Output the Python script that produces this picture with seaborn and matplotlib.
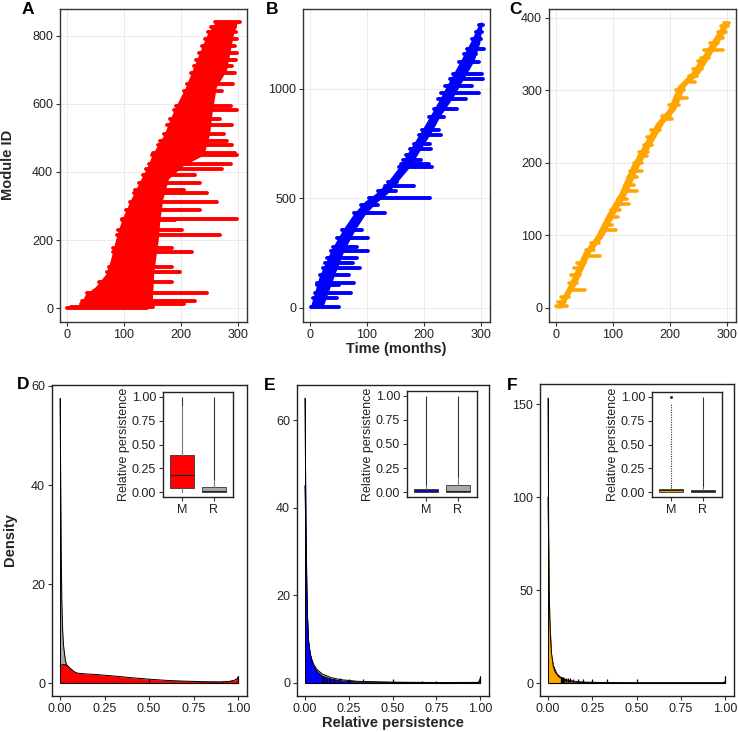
import numpy as np
import pandas as pd
import matplotlib
matplotlib.use("Agg")
import matplotlib.pyplot as plt
import seaborn as sns

# ------------------------------------------------------------------ data
# Panel A (red) : solid core of module lifetimes (module id vs months)
a_core_id    = [0, 10, 40, 63, 100, 140, 200, 260, 320, 380, 420, 450, 510, 580, 650, 700, 770, 805, 835, 842]
a_core_left  = [0, 23, 32, 50, 68, 76, 85, 96, 112, 130, 142, 149, 170, 187, 208, 220, 237, 246, 258, 262]
a_core_right = [148, 150, 150, 151, 152, 155, 160, 163, 168, 178, 205, 240, 250, 255, 262, 280, 288, 292, 298, 300]
# protruding long-lived modules
a_bar_id    = [0, 3, 13, 20, 44, 78, 107, 122, 166, 176, 215, 229, 258, 263, 288, 312, 339, 346, 368, 390, 410, 424,
               449, 455, 478, 490, 512, 537, 556, 582, 595, 639, 660, 690, 710, 730, 750, 770, 790, 810, 825, 840]
a_bar_start = [0, 7, 24, 27, 35, 57, 70, 73, 80, 81, 88, 90, 96, 97, 104, 110, 117, 119, 126, 133, 139, 143,
               149, 150, 159, 164, 171, 176, 181, 188, 192, 205, 211, 217, 222, 227, 232, 237, 242, 247, 252, 260]
a_bar_end   = [140, 150, 205, 225, 246, 184, 199, 184, 219, 184, 269, 202, 190, 298, 234, 263, 246, 205, 233, 225, 272, 287,
               298, 295, 289, 280, 275, 289, 269, 298, 287, 272, 292, 295, 290, 296, 298, 295, 298, 296, 294, 304]

# Panel B (blue)
b_core_id    = [0, 144, 265, 356, 432, 485, 523, 576, 644, 720, 803, 879, 962, 1045, 1129, 1212, 1295, 1305]
b_core_left  = [0, 16, 37, 57, 77, 95, 115, 136, 156, 174, 194, 211, 229, 246, 264, 281, 296, 299]
b_core_right = [22, 42, 60, 79, 98, 118, 136, 153, 175, 193, 213, 229, 251, 269, 288, 298, 302, 302]
b_bar_id    = [5, 45, 68, 106, 114, 152, 182, 205, 227, 258, 280, 318, 356, 432, 470, 502, 535, 556, 576, 644,
               659, 677, 697, 727, 750, 788, 811, 871, 909, 955, 980, 1015, 1045, 1068, 1121, 1159, 1182, 1230, 1260, 1290]
b_bar_start = [1, 5, 8, 12, 13, 17, 23, 27, 30, 36, 40, 48, 57, 77, 90, 104, 120, 131, 136, 156,
               160, 164, 168, 176, 182, 191, 196, 209, 218, 224, 230, 237, 246, 251, 262, 270, 275, 285, 291, 296]
b_bar_end   = [50, 48, 72, 51, 77, 69, 88, 75, 83, 101, 83, 101, 91, 131, 120, 211, 151, 182, 153, 214,
               208, 194, 184, 213, 211, 229, 226, 235, 258, 273, 296, 285, 303, 302, 296, 291, 305, 300, 302, 303]

# Panel C (orange)
c_core_id    = [0, 34, 76, 99, 131, 159, 195, 228, 255, 274, 306, 324, 352, 379, 395]
c_core_left  = [0, 23, 47, 69, 90, 111, 131, 155, 175, 196, 213, 236, 260, 282, 295]
c_core_right = [10, 36, 60, 83, 104, 125, 145, 169, 189, 210, 227, 252, 274, 296, 302]
c_bar_id    = [3, 8, 15, 25, 35, 45, 55, 62, 71, 80, 90, 108, 115, 125, 135, 143, 150, 161, 170, 180, 189,
               200, 209, 215, 225, 235, 245, 260, 265, 280, 290, 300, 312, 320, 330, 340, 345, 356, 365, 372, 380, 388, 393]
c_bar_start = [0, 3, 8, 28, 22, 27, 32, 37, 57, 53, 62, 84, 84, 92, 97, 110, 108, 119, 121, 127, 130,
               136, 145, 146, 154, 160, 167, 195, 186, 198, 212, 211, 236, 233, 241, 250, 255, 259, 270, 282, 284, 290, 295]
c_bar_end   = [20, 16, 22, 51, 36, 42, 46, 50, 78, 66, 76, 106, 98, 108, 112, 128, 124, 142, 136, 142, 151,
               150, 160, 162, 168, 172, 182, 204, 200, 215, 230, 224, 244, 248, 256, 262, 268, 293, 284, 293, 298, 302, 304]

# Density curves (relative persistence)
d_m_x = [0, 0.005, 0.02, 0.04, 0.06, 0.08, 0.10, 0.15, 0.20, 0.25, 0.30, 0.40, 0.50, 0.60, 0.70, 0.80, 0.90, 0.95, 0.98, 1.0]
d_m_y = [3.4, 3.6, 3.8, 3.6, 2.9, 2.3, 2.0, 1.85, 1.75, 1.6, 1.45, 1.1, 0.8, 0.55, 0.4, 0.3, 0.25, 0.35, 0.6, 1.0]
d_r_x = [0, 0.002, 0.004, 0.007, 0.01, 0.015, 0.02, 0.03, 0.04, 0.06, 0.1, 0.2, 0.3, 0.5, 0.7, 0.9, 0.99, 1.0]
d_r_y = [57.5, 50, 40, 26, 17, 10.5, 7.5, 4.6, 3.3, 2.2, 1.5, 0.8, 0.5, 0.3, 0.2, 0.15, 0.3, 1.3]
d_spike_x = [0.5, 1.0]
d_spike_h = [0.9, 1.4]

e_m_x = [0, 0.003, 0.006, 0.01, 0.015, 0.02, 0.03, 0.04, 0.05, 0.07, 0.1, 0.15, 0.2, 0.3, 0.5, 0.75, 0.99, 1.0]
e_m_y = [65, 52, 38, 25, 15, 10, 6.8, 5, 3.8, 2.5, 1.5, 0.8, 0.45, 0.2, 0.1, 0.05, 0.1, 0.5]
e_r_x = [0, 0.003, 0.006, 0.01, 0.02, 0.03, 0.05, 0.07, 0.1, 0.15, 0.2, 0.3, 0.5, 0.75, 0.99, 1.0]
e_r_y = [45, 40, 30, 20, 9.5, 6.5, 4.2, 3.0, 2.0, 1.2, 0.75, 0.35, 0.15, 0.08, 0.1, 1.0]
e_spike_x = [0.1, 0.111, 0.125, 0.143, 0.167, 0.2, 0.25, 0.333, 0.5, 0.667, 0.75, 1.0]
e_spike_h = [1.6, 1.3, 1.2, 1.1, 1.0, 1.0, 0.9, 0.8, 0.9, 0.4, 0.4, 1.6]

f_m_x = [0, 0.002, 0.004, 0.007, 0.01, 0.015, 0.02, 0.03, 0.04, 0.06, 0.08, 0.1, 0.15, 0.2, 0.3, 0.5, 0.99, 1.0]
f_m_y = [153.5, 120, 80, 50, 35, 23, 16, 9, 6, 3.5, 2.2, 1.2, 0.5, 0.25, 0.1, 0.05, 0.05, 0.3]
f_r_x = [0, 0.003, 0.006, 0.01, 0.02, 0.03, 0.05, 0.07, 0.1, 0.15, 0.2, 0.3, 0.5, 0.99, 1.0]
f_r_y = [100, 80, 55, 35, 15, 9.5, 5, 3.2, 1.8, 0.9, 0.5, 0.25, 0.1, 0.1, 0.8]
f_spike_x = [0.071, 0.077, 0.083, 0.091, 0.1, 0.111, 0.125, 0.143, 0.167, 0.2, 0.25, 0.333, 0.5, 1.0]
f_spike_h = [3.2, 3.0, 3.0, 2.8, 2.8, 2.6, 2.5, 2.4, 2.3, 2.2, 2.2, 2.0, 2.4, 3.6]

# Inset box plots (M = modules, R = random)
groups = ["M", "R"]
d_q1 = [0.04, 0.00]; d_med = [0.18, 0.01]; d_q3 = [0.39, 0.06]
d_lo = [0.0, 0.0];   d_hi = [0.90, 0.13];  d_out_lo = [0.90, 0.13]; d_out_hi = [1.0, 1.0]
e_q1 = [0.00, 0.00]; e_med = [0.02, 0.01]; e_q3 = [0.03, 0.07]
e_lo = [0.0, 0.0];   e_hi = [0.07, 0.16];  e_out_lo = [0.07, 0.16]; e_out_hi = [1.0, 1.0]
f_q1 = [0.00, 0.00]; f_med = [0.02, 0.01]; f_q3 = [0.03, 0.02]
f_lo = [0.0, 0.0];   f_hi = [0.07, 0.05];  f_out_lo = [0.07, 0.05]; f_out_hi = [0.92, 1.0]

RED, BLUE, ORANGE, GREY = "#FF0000", "#0000FF", "#FFA500", "#AAAAAA"

# ------------------------------------------------------------------ figure
sns.set_theme(style="white")
plt.rcParams["font.family"] = ["Liberation Sans", "DejaVu Sans"]

W, H = 739, 732
fig = plt.figure(figsize=(W / 100, H / 100), dpi=100)


def add_ax(l, r, t, b):
    return fig.add_axes([l / W, 1 - b / H, (r - l) / W, (b - t) / H])


def style(ax, grid=False, spine="#333333"):
    for s in ax.spines.values():
        s.set_visible(True)
        s.set_color(spine)
        s.set_linewidth(1.0)
    ax.tick_params(axis="both", which="both", bottom=True, left=True, length=3, width=0.8,
                   color="#333333", labelsize=9, labelcolor="#222222", pad=2)
    if grid:
        ax.grid(True, color="#EBEBEB", lw=0.7)
        ax.set_axisbelow(True)
    else:
        ax.grid(False)
    ax.set_xlabel("")
    ax.set_ylabel("")


def top_panel(ax, cid, cl, cr, bid, bs, be, color, lw, ylim, yticks):
    ax.fill_betweenx(cid, cl, cr, color=color, lw=0, zorder=2)
    lc = ax.hlines(bid, bs, be, color=color, lw=lw, zorder=3)
    lc.set_capstyle("round")
    ax.set_xlim(-12.3, 315.8)
    ax.set_xticks([0, 100, 200, 300])
    ax.set_ylim(*ylim)
    ax.set_yticks(yticks)
    style(ax, grid=True)


axA = add_ax(60, 247, 9, 322)
top_panel(axA, a_core_id, a_core_left, a_core_right, a_bar_id, a_bar_start, a_bar_end,
          RED, 2.8, (-41, 879), [0, 200, 400, 600, 800])
axB = add_ax(303, 490, 9, 322)
top_panel(axB, b_core_id, b_core_left, b_core_right, b_bar_id, b_bar_start, b_bar_end,
          BLUE, 2.8, (-64, 1365), [0, 500, 1000])
axC = add_ax(549, 736, 9, 322)
top_panel(axC, c_core_id, c_core_left, c_core_right, c_bar_id, c_bar_start, c_bar_end,
          ORANGE, 2.6, (-19.3, 412), [0, 100, 200, 300, 400])


def dens_panel(ax, rx, ry, mx, my, sx, sh, color, ylim, yticks):
    ax.fill_between(rx, 0, ry, color=GREY, lw=0, zorder=2)
    sns.lineplot(x=rx, y=ry, ax=ax, color="black", lw=0.7, estimator=None, sort=False, zorder=3)
    ax.fill_between(mx, 0, my, color=color, lw=0, zorder=4)
    sns.lineplot(x=mx, y=my, ax=ax, color="black", lw=0.7, estimator=None, sort=False, zorder=5)
    ax.hlines(0, 0, 1, color="black", lw=0.8, zorder=5)
    ax.vlines(sx, 0, sh, color="black", lw=0.9, zorder=6)
    ax.vlines([0, 1], 0, [max(max(ry), max(my)), max(sh)], color="black", lw=0.7, zorder=6)
    ax.set_xlim(-0.045, 1.05)
    ax.set_xticks([0, 0.25, 0.5, 0.75, 1.0])
    ax.set_xticklabels(["0.00", "0.25", "0.50", "0.75", "1.00"])
    ax.set_ylim(*ylim)
    ax.set_yticks(yticks)
    style(ax, spine="#222222")


axD = add_ax(52, 247, 385, 696)
dens_panel(axD, d_r_x, d_r_y, d_m_x, d_m_y, d_spike_x, d_spike_h, RED, (-2.6, 60.2), [0, 20, 40, 60])
axE = add_ax(297, 489, 385, 696)
dens_panel(axE, e_r_x, e_r_y, e_m_x, e_m_y, e_spike_x, e_spike_h, BLUE, (-3.0, 68), [0, 20, 40, 60])
axF = add_ax(540, 734, 384, 696)
dens_panel(axF, f_r_x, f_r_y, f_m_x, f_m_y, f_spike_x, f_spike_h, ORANGE, (-7, 161), [0, 50, 100, 150])


def inset(l, r, t, b, q1, med, q3, lo, hi, olo, ohi, color, dotted_m=False):
    ax = add_ax(l, r, t, b)
    stats = []
    for i, g in enumerate(groups):
        stats.append(dict(label=g, q1=q1[i], med=med[i], q3=q3[i], whislo=lo[i], whishi=hi[i], fliers=[]))
    bp = ax.bxp(stats, positions=[1, 2], widths=0.75, patch_artist=True, showcaps=False,
                showfliers=False, boxprops=dict(lw=0.6, edgecolor="#333333"),
                medianprops=dict(color="#222222", lw=0.8),
                whiskerprops=dict(color="#777777", lw=0.8))
    for patch, c in zip(bp["boxes"], [color, GREY]):
        patch.set_facecolor(c)
    for i in range(2):
        if dotted_m and i == 0:
            ax.vlines(1, olo[i], ohi[i], color="#333333", lw=0.8, linestyles=(0, (1, 1.2)), zorder=1)
            ax.plot([1], [1.0], marker="o", ms=1.2, color="#333333")
        else:
            ax.vlines(i + 1, olo[i], ohi[i], color="#333333", lw=0.8, zorder=1)
    ax.set_xlim(0.4, 2.6)
    ax.set_ylim(-0.05, 1.05)
    ax.set_yticks([0, 0.25, 0.5, 0.75, 1.0])
    ax.set_yticklabels(["0.00", "0.25", "0.50", "0.75", "1.00"])
    ax.set_xticks([1, 2])
    ax.set_xticklabels(groups)
    style(ax, spine="#222222")
    ax.tick_params(labelsize=9, labelcolor="#222222")
    ax.set_ylabel("Relative persistence", fontsize=9, color="#222222", labelpad=1)
    return ax


inset(163, 233, 392, 497, d_q1, d_med, d_q3, d_lo, d_hi, d_out_lo, d_out_hi, RED)
inset(407, 477, 391, 497, e_q1, e_med, e_q3, e_lo, e_hi, e_out_lo, e_out_hi, BLUE)
inset(652, 722, 392, 497, f_q1, f_med, f_q3, f_lo, f_hi, f_out_lo, f_out_hi, ORANGE, dotted_m=True)

# ------------------------------------------------------------------ texts
def ftext(x, y, s, **kw):
    fig.text(x / W, 1 - y / H, s, **kw)


for lab, x, y in [("A", 22, 2), ("B", 266, 2), ("C", 509, 2), ("D", 17, 377), ("E", 264, 378), ("F", 507, 378)]:
    ftext(x, y, lab, fontsize=12.5, fontweight="bold", va="top", ha="left", color="black")

ftext(8, 165, "Module ID", fontsize=10.5, fontweight="bold", rotation=90, va="center", ha="center")
ftext(10, 540, "Density", fontsize=10.5, fontweight="bold", rotation=90, va="center", ha="center")
ftext(396, 349, "Time (months)", fontsize=10.5, fontweight="bold", va="center", ha="center")
ftext(393, 723, "Relative persistence", fontsize=10.5, fontweight="bold", va="center", ha="center")

fig.savefig("out.png", dpi=100)
